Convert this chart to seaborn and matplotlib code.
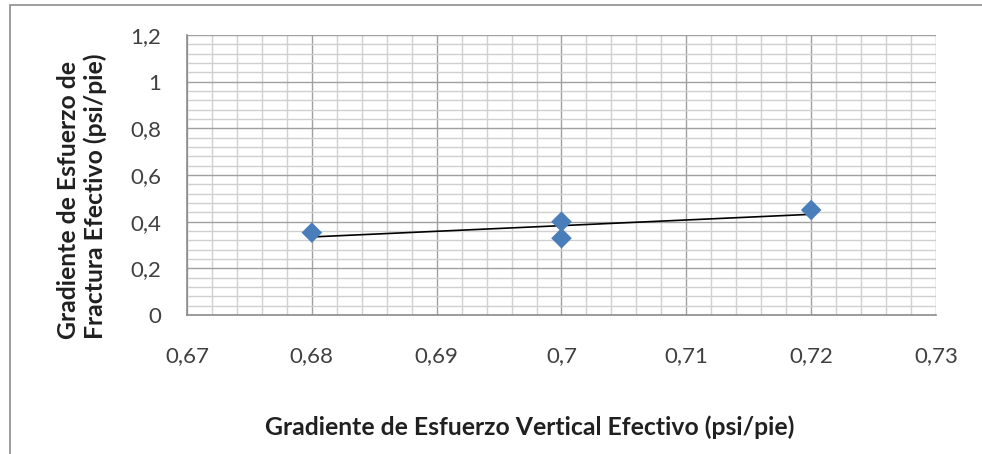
import numpy as np
import pandas as pd
import matplotlib
matplotlib.use("Agg")
import matplotlib.pyplot as plt
import seaborn as sns
from matplotlib.patches import Rectangle
from matplotlib.ticker import MultipleLocator, FuncFormatter

# Data
grad_vertical = [0.68, 0.70, 0.70, 0.72]
grad_fractura = [0.353, 0.400, 0.329, 0.450]

x_ticks = [0.67, 0.68, 0.69, 0.70, 0.71, 0.72, 0.73]
y_ticks = [0, 0.2, 0.4, 0.6, 0.8, 1.0, 1.2]

df = pd.DataFrame({"x": grad_vertical, "y": grad_fractura})

sns.set_style("white")
plt.rcParams["font.family"] = ["Lato", "DejaVu Sans"]

fig = plt.figure(figsize=(9.82, 4.54), dpi=100)
ax = fig.add_axes([187 / 982, 1 - 315 / 454, (936 - 187) / 982, (315 - 35) / 454])

# Chart frame
fig.add_artist(Rectangle((10 / 982, -0.05), 1.2, 1 - 5 / 454 + 0.05,
                         transform=fig.transFigure, fill=False,
                         edgecolor="#8c8c8c", linewidth=1.2))

ax.set_xlim(0.67, 0.73)
ax.set_ylim(0, 1.2)
ax.xaxis.set_major_locator(MultipleLocator(0.01))
ax.xaxis.set_minor_locator(MultipleLocator(0.002))
ax.yaxis.set_major_locator(MultipleLocator(0.2))
ax.yaxis.set_minor_locator(MultipleLocator(0.04))
ax.grid(which="minor", color="#d0d0d0", linewidth=1.0)
ax.grid(which="major", color="#a0a0a0", linewidth=1.0)
ax.set_axisbelow(True)

# Linear trend line
slope, intercept = np.polyfit(df["x"], df["y"], 1)
xs = np.array([min(grad_vertical), max(grad_vertical)])
ax.plot(xs, slope * xs + intercept, color="black", linewidth=1.2, zorder=3)

sns.scatterplot(data=df, x="x", y="y", marker="D", s=110, color="#4a7ebb",
                edgecolor="none", ax=ax, zorder=4)

fmt = FuncFormatter(lambda v, p: ("%g" % round(v, 3)).replace(".", ","))
ax.xaxis.set_major_formatter(fmt)
ax.yaxis.set_major_formatter(fmt)
ax.set_xticks(x_ticks)
ax.set_yticks(y_ticks)

for s in ["top", "right"]:
    ax.spines[s].set_visible(False)
for s in ["left", "bottom"]:
    ax.spines[s].set_color("#8c8c8c")
    ax.spines[s].set_linewidth(1.2)

ax.tick_params(axis="both", which="major", direction="out", length=6.5,
               color="#8c8c8c", labelsize=16, labelcolor="#404040")
ax.tick_params(axis="x", which="major", pad=16)
ax.tick_params(axis="y", which="major", pad=12)
ax.tick_params(which="minor", length=0)

ax.set_xlabel("Gradiente de Esfuerzo Vertical Efectivo (psi/pie)",
              fontsize=17.8, fontweight="bold", color="#202020")
ax.xaxis.set_label_coords(0.458, -0.357)
ax.set_ylabel("Gradiente de Esfuerzo de\nFractura Efectivo (psi/pie)",
              fontsize=17.8, fontweight="bold", color="#202020",
              linespacing=1.15, multialignment="left")
ax.yaxis.set_label_coords(-0.107, 0.425)

fig.savefig("out.png", dpi=100)
